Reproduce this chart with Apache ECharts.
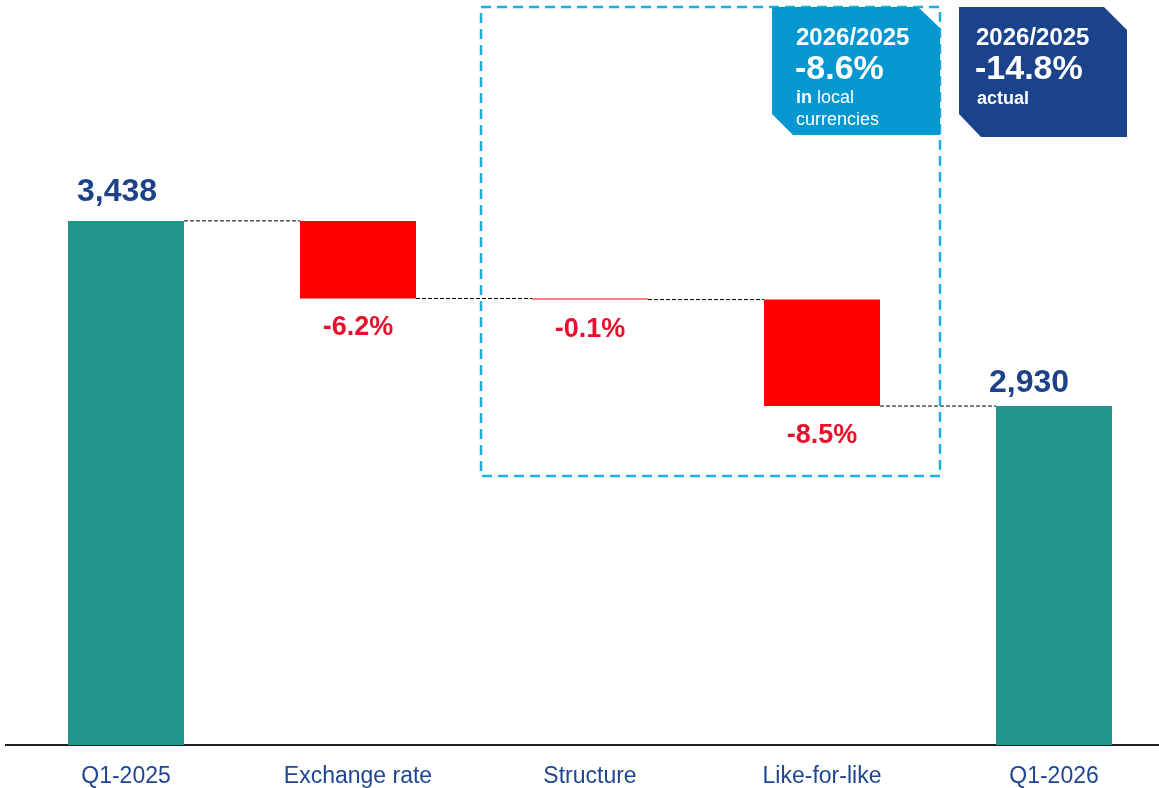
<!DOCTYPE html>
<html>
<head>
<meta charset="utf-8">
<script src="https://cdn.jsdelivr.net/npm/echarts@6/dist/echarts.min.js"></script>
<style>
  html, body { margin: 0; padding: 0; background: #fff; }
  #chart { width: 1159px; height: 788px; }
</style>
</head>
<body>
<div id="chart"></div>
<script>
// waterfall data
const categories = ['Q1-2025', 'Exchange rate', 'Structure', 'Like-for-like', 'Q1-2026'];
const totals = [3438, null, null, null, 2930];
const deltas = [null, -213, -3, -292, null];
const changeLabels = [null, '-6.2%', '-0.1%', '-8.5%', null];

const FONT = '"Liberation Sans", Arial, sans-serif';

// running levels after each step
const levels = [];
let run = 0;
categories.forEach((c, i) => {
  if (totals[i] != null) run = totals[i];
  else run += deltas[i];
  levels.push(run);
});

// transparent base under the change bars
const baseData = deltas.map((d, i) => (d == null ? null : levels[i]));
const changeData = deltas.map((d, i) => (d == null ? null : {
  value: Math.abs(d),
  label: { formatter: changeLabels[i] },
}));
const totalData = totals.map((t, i) => (t == null ? null : {
  value: t,
  label: i === 0 ? { offset: [-9, 0], distance: 13 } : { offset: [-25, 0], distance: 7 },
}));
const connectorData = levels.slice(0, -1).map((l, i) => [i, l]);

const chart = echarts.init(document.getElementById('chart'));

chart.setOption({
  animation: false,
  grid: { left: 10, width: 1160, top: 0, bottom: 43, outerBoundsMode: 'none', containLabel: false },
  xAxis: {
    type: 'category',
    data: categories,
    axisTick: { show: false },
    axisLine: { lineStyle: { color: '#222', width: 2 } },
    axisLabel: { color: '#1f4690', fontSize: 23, fontFamily: FONT, margin: 20 },
  },
  yAxis: { type: 'value', min: 2000, max: 4044, show: false, splitLine: { show: false } },
  series: [
    {
      name: 'total',
      type: 'bar',
      barWidth: '50%',
      barGap: '-100%',
      itemStyle: { color: '#21948c' },
      label: {
        show: true,
        position: 'top',
        color: '#1c4389',
        fontSize: 32,
        fontWeight: 'bold',
        fontFamily: FONT,
        formatter: (p) => p.value.toLocaleString('en-US'),
      },
      data: totalData,
      z: 3,
    },
    {
      name: 'base',
      type: 'bar',
      stack: 'wf',
      barWidth: '50%',
      itemStyle: { color: 'transparent' },
      data: baseData,
    },
    {
      name: 'change',
      type: 'bar',
      stack: 'wf',
      barWidth: '50%',
      barMinHeight: 1,
      itemStyle: { color: '#ff0000' },
      label: {
        show: true,
        position: 'bottom',
        distance: 16,
        color: '#e8112d',
        fontSize: 27,
        fontWeight: 'bold',
        fontFamily: FONT,
      },
      data: changeData,
    },
    {
      name: 'connector',
      type: 'custom',
      data: connectorData,
      renderItem: (params, api) => {
        const p = api.coord([api.value(0), api.value(1)]);
        const w = api.size([1, 0])[0];
        const bw = w * 0.5;
        return {
          type: 'line',
          shape: { x1: p[0] + bw / 2, y1: p[1], x2: p[0] + w - bw / 2, y2: p[1] },
          style: { stroke: '#000', lineWidth: 1, lineDash: [4, 2] },
        };
      },
      z: 1,
    },
  ],
  graphic: [
    {
      type: 'line',
      shape: { x1: 5, y1: 745, x2: 12, y2: 745 },
      style: { stroke: '#222', lineWidth: 2 },
    },
    {
      type: 'rect',
      shape: { x: 481, y: 7, width: 459, height: 469 },
      style: { fill: 'none', stroke: '#1ab1e3', lineWidth: 2.5, lineDash: [10, 6] },
      z: 5,
    },
    {
      type: 'polygon',
      shape: { points: [[772, 7], [918, 7], [940, 28], [940, 135], [793, 135], [772, 114]] },
      style: { fill: '#0598d0' },
      z: 10,
    },
    {
      type: 'polygon',
      shape: { points: [[959, 7], [1104, 7], [1127, 30], [1127, 137], [981, 137], [959, 114]] },
      style: { fill: '#1a438b' },
      z: 10,
    },
    { type: 'text', x: 796, y: 38, z: 11,
      style: { text: '2026/2025', fill: '#fff', font: 'bold 24px ' + FONT, verticalAlign: 'middle' } },
    { type: 'text', x: 795, y: 70, z: 11,
      style: { text: '-8.6%', fill: '#fff', font: 'bold 34px ' + FONT, verticalAlign: 'middle' } },
    { type: 'text', x: 796, y: 98, z: 11,
      style: {
        text: '{b|in} local', fill: '#fff', font: '18px ' + FONT, verticalAlign: 'middle',
        rich: { b: { fontWeight: 'bold', fontSize: 18, fontFamily: FONT, fill: '#fff' } },
      } },
    { type: 'text', x: 796, y: 120, z: 11,
      style: { text: 'currencies', fill: '#fff', font: '18px ' + FONT, verticalAlign: 'middle' } },
    { type: 'text', x: 976, y: 38, z: 11,
      style: { text: '2026/2025', fill: '#fff', font: 'bold 24px ' + FONT, verticalAlign: 'middle' } },
    { type: 'text', x: 975, y: 70, z: 11,
      style: { text: '-14.8%', fill: '#fff', font: 'bold 34px ' + FONT, verticalAlign: 'middle' } },
    { type: 'text', x: 977, y: 99, z: 11,
      style: { text: 'actual', fill: '#fff', font: 'bold 18px ' + FONT, verticalAlign: 'middle' } },
  ],
});
</script>
</body>
</html>
